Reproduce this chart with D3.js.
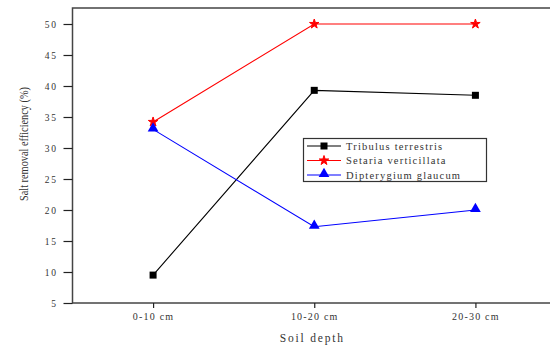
<!DOCTYPE html>
<html>
<head>
<meta charset="utf-8">
<script src="https://d3js.org/d3.v7.min.js"></script>
<style>
  body { margin: 0; background: #fff; }
  text { font-family: "Liberation Serif", "DejaVu Serif", serif; fill: #333; }
</style>
</head>
<body>
<svg id="chart" width="550" height="347"></svg>
<script>
// data
var depths = ["0-10 cm", "10-20 cm", "20-30 cm"];
var tribulus = [9.5, 39.3, 38.5];
var setaria = [34.2, 50.0, 50.0];
var dipterygium = [33.0, 17.3, 20.0];
var yTicks = [5, 10, 15, 20, 25, 30, 35, 40, 45, 50];

var series = [
  { name: "Tribulus terrestris", values: tribulus, color: "#000", marker: "square" },
  { name: "Setaria verticillata", values: setaria, color: "#ff0000", marker: "star" },
  { name: "Dipterygium glaucum", values: dipterygium, color: "#0000ff", marker: "triangle" }
];

var svg = d3.select("#chart");
var pLeft = 72.5, pTop = 8, pBottom = 303, pRight = 556;

var x = d3.scalePoint().domain(depths).range([pLeft, pRight]).padding(0.5);
var y = d3.scaleLinear().domain([5, 50]).range([pBottom, 24]);

// frame
svg.append("rect")
  .attr("x", pLeft).attr("y", pTop)
  .attr("width", pRight - pLeft).attr("height", pBottom - pTop)
  .attr("fill", "none").attr("stroke", "#444").attr("stroke-width", 1.5);

// y axis
var ya = svg.append("g").attr("transform", "translate(" + pLeft + ",0)")
  .call(d3.axisLeft(y).tickValues(yTicks).tickSize(9).tickPadding(6));
ya.select(".domain").remove();
ya.selectAll("line").attr("stroke", "#222").attr("stroke-width", 1.2);
ya.selectAll("text").attr("font-size", 9.5).attr("letter-spacing", 1.6)
  .attr("font-family", "Liberation Serif").attr("fill", "#444");

// x axis
var xa = svg.append("g").attr("transform", "translate(0," + pBottom + ")")
  .call(d3.axisBottom(x).tickSize(5).tickPadding(5));
xa.select(".domain").remove();
xa.selectAll("line").attr("stroke", "#222").attr("stroke-width", 1.2);
xa.selectAll("text").attr("font-size", 10).attr("letter-spacing", 1.2)
  .attr("font-family", "Liberation Serif").attr("fill", "#444");

// axis titles
svg.append("text")
  .attr("x", x("10-20 cm") - 2).attr("y", 342)
  .attr("text-anchor", "middle").attr("font-size", 11.5).attr("letter-spacing", 1.8)
  .text("Soil depth");

svg.append("text")
  .attr("transform", "translate(28,144) rotate(-90)")
  .attr("text-anchor", "middle").attr("font-size", 12.5)
  .attr("textLength", 114).attr("lengthAdjust", "spacingAndGlyphs")
  .text("Salt removal efficiency (%)");

function drawMarker(g, type, cx, cy, color) {
  if (type === "square") {
    g.append("rect").attr("x", cx - 3.5).attr("y", cy - 3.5)
      .attr("width", 7).attr("height", 7).attr("fill", color);
  } else if (type === "star") {
    g.append("path")
      .attr("d", d3.symbol().type(d3.symbolStar).size(28)())
      .attr("transform", "translate(" + cx + "," + cy + ")")
      .attr("fill", color).attr("stroke", color).attr("stroke-width", 1);
  } else {
    g.append("path")
      .attr("d", d3.symbol().type(d3.symbolTriangle).size(50)())
      .attr("transform", "translate(" + cx + "," + (cy - 1) + ")")
      .attr("fill", color);
  }
}

var line = d3.line()
  .x(function(d, i) { return x(depths[i]); })
  .y(function(d) { return y(d); });

series.forEach(function(s) {
  var g = svg.append("g");
  g.append("path").datum(s.values)
    .attr("d", line).attr("fill", "none")
    .attr("stroke", s.color).attr("stroke-width", 1.1);
  s.values.forEach(function(v, i) {
    drawMarker(g, s.marker, x(depths[i]), y(v), s.color);
  });
});

// legend
var lg = svg.append("g");
lg.append("rect").attr("x", 303.5).attr("y", 138.5)
  .attr("width", 183).attr("height", 43)
  .attr("fill", "#fff").attr("stroke", "#333").attr("stroke-width", 1.2);
series.forEach(function(s, i) {
  var yy = 146 + i * 14.5;
  lg.append("line").attr("x1", 307).attr("x2", 341).attr("y1", yy).attr("y2", yy)
    .attr("stroke", s.color).attr("stroke-width", 1.1);
  drawMarker(lg, s.marker, 324, yy, s.color);
  lg.append("text").attr("x", 346).attr("y", yy + 3.5)
    .attr("font-size", 10.5).attr("letter-spacing", 1.2).attr("fill", "#111")
    .text(s.name);
});
</script>
</body>
</html>
